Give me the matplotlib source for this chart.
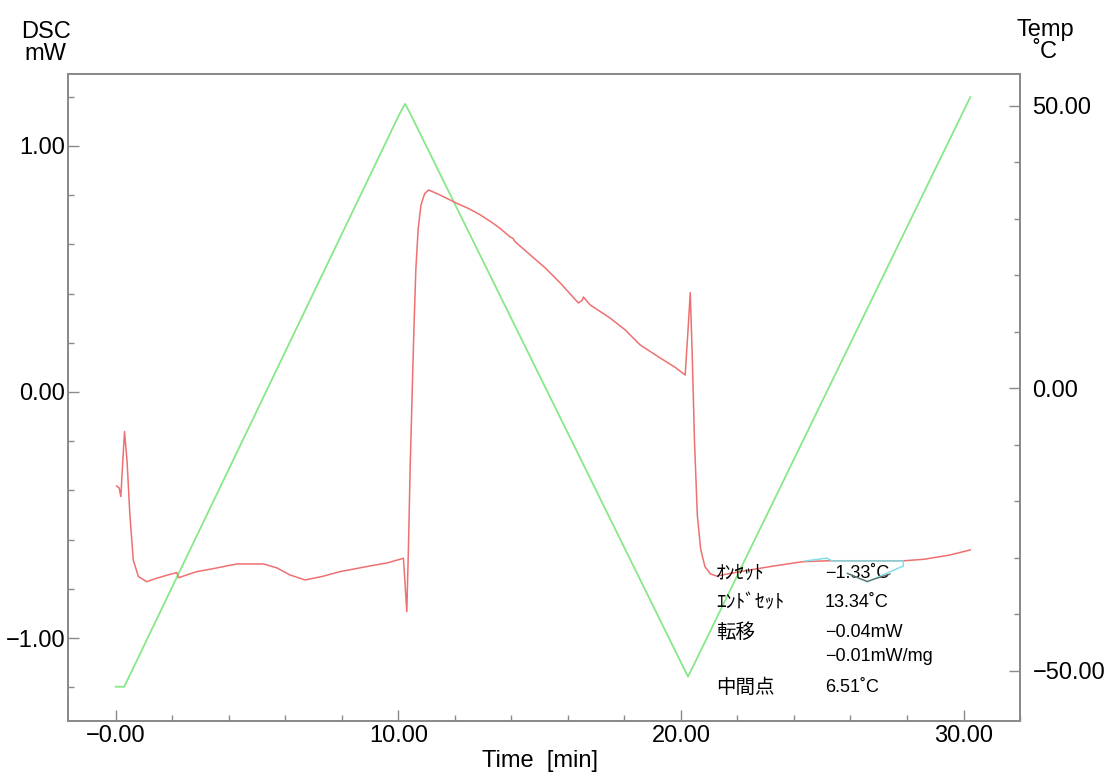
import matplotlib
matplotlib.use("Agg")
import matplotlib.pyplot as plt

plt.rcParams['font.family'] = ['Liberation Sans', 'Noto Sans CJK JP', 'DejaVu Sans']

# DSC signal (mW) vs time (min)
dsc_time = [0.03, 0.12, 0.18, 0.24, 0.31, 0.40, 0.50, 0.62, 0.80, 1.10, 1.45, 1.80, 2.16, 2.22,
            2.87, 3.50, 4.28, 5.23, 5.70, 6.17, 6.70, 7.30, 7.94, 8.50, 9.00, 9.60, 10.18,
            10.30, 10.36, 10.42, 10.49, 10.55, 10.62, 10.70, 10.80, 10.93, 11.07, 11.40, 12.07,
            12.50, 12.90, 13.30, 13.60, 13.96, 14.05, 14.14, 14.67, 15.20, 15.73, 16.37, 16.50,
            16.55, 16.79, 17.50, 18.03, 18.56, 19.27, 19.80, 20.15, 20.25, 20.33, 20.40, 20.48,
            20.58, 20.70, 20.85, 21.05, 21.26, 22.10, 23.30, 24.30, 25.20, 26.20, 27.90, 28.60,
            29.50, 30.24]
dsc_mw = [-0.382, -0.39, -0.425, -0.30, -0.161, -0.28, -0.50, -0.683, -0.750, -0.771, -0.757,
          -0.745, -0.734, -0.755, -0.730, -0.717, -0.699, -0.699, -0.715, -0.744, -0.764,
          -0.750, -0.730, -0.718, -0.707, -0.695, -0.676, -0.893, -0.62, -0.30, 0.00, 0.25,
          0.50, 0.66, 0.76, 0.806, 0.821, 0.805, 0.767, 0.745, 0.720, 0.690, 0.665, 0.630,
          0.625, 0.610, 0.557, 0.504, 0.443, 0.362, 0.372, 0.386, 0.354, 0.300, 0.252, 0.191,
          0.138, 0.100, 0.069, 0.250, 0.404, 0.150, -0.20, -0.50, -0.64, -0.71, -0.740, -0.748,
          -0.730, -0.707, -0.690, -0.686, -0.686, -0.686, -0.680, -0.663, -0.642]

# Programmed temperature (°C) vs time (min)
temp_time = [0.00, 0.30, 10.05, 10.24, 10.42, 20.10, 20.25, 20.40, 30.24]
temp_c = [-52.8, -52.8, 48.6, 50.3, 48.6, -49.5, -51.0, -49.5, 51.5]

# Baseline construction of the step analysis
base_time = [24.40, 25.17, 25.35, 27.87, 27.87, 26.59, 25.88]
base_mw = [-0.687, -0.675, -0.687, -0.687, -0.707, -0.772, -0.736]
tang_time = [25.90, 26.59, 27.40]
tang_mw = [-0.738, -0.770, -0.740]

x_ticks = [0, 10, 20, 30]
x_labels = ['\u22120.00', '10.00', '20.00', '30.00']
y_ticks = [-1, 0, 1]
y_labels = ['\u22121.00', '0.00', '1.00']
t_ticks = [-50, 0, 50]
t_labels = ['\u221250.00', '0.00', '50.00']

result_names = ['\uff75\uff9d\uff7e\uff6f\uff84', '\uff74\uff9d\uff84\uff9e\uff7e\uff6f\uff84', '\u8ee2\u79fb', '', '\u4e2d\u9593\u70b9']
result_values = ['\u22121.33\u02daC', '13.34\u02daC', '\u22120.04mW', '\u22120.01mW/mg', '6.51\u02daC']

fig = plt.figure(figsize=(11.12, 7.78), dpi=100)
ax = fig.add_axes([0.0614, 0.0737, 0.8559, 0.8313])
ax2 = ax.twinx()

spine_col = '#8a8a8a'
for a in (ax, ax2):
    for s in a.spines.values():
        s.set_color(spine_col)
        s.set_linewidth(1.3)

ax2.plot(temp_time, temp_c, color='#86e886', lw=1.3, zorder=2)
ax.plot(dsc_time, dsc_mw, color='#ee7070', lw=1.1, zorder=3)
ax.plot(base_time, base_mw, color='#7fe0e8', lw=1.1, zorder=4)
ax.plot(tang_time, tang_mw, color='#666666', lw=0.9, zorder=4)
ax.set_zorder(ax2.get_zorder() + 1)
ax.patch.set_visible(False)

ax.set_xlim(-1.68, 32.0)
ax.set_ylim(-1.336, 1.293)
ax2.set_ylim(-58.8, 55.6)

ax.set_xticks(x_ticks)
ax.set_xticklabels(x_labels)
ax.set_xticks([t for t in range(0, 33, 2) if t not in x_ticks], minor=True)
ax.set_yticks(y_ticks)
ax.set_yticklabels(y_labels)
ax.set_yticks([v / 10 for v in range(-12, 13, 2) if v % 10 != 0], minor=True)
ax2.set_yticks(t_ticks)
ax2.set_yticklabels(t_labels)
ax2.set_yticks([v for v in range(-50, 51, 10) if v % 50 != 0], minor=True)

for a in (ax, ax2):
    a.tick_params(which='major', direction='in', length=8, width=1.0, color=spine_col, labelsize=17)
    a.tick_params(which='minor', direction='in', length=4, width=1.0, color=spine_col)
ax.tick_params(axis='x', pad=3)
ax.tick_params(axis='y', pad=2)
ax2.tick_params(axis='y', pad=9)

fig.text(0.041, 0.945, 'DSC\nmW', ha='center', va='center', fontsize=17, linespacing=1.0)
fig.text(0.940, 0.947, 'Temp\n\u02daC', ha='center', va='center', fontsize=17, linespacing=1.0)
fig.text(0.486, 0.022, 'Time  [min]', ha='center', va='center', fontsize=17)

row_y = [-0.737, -0.857, -0.977, -1.077, -1.202]
for name, val, yy in zip(result_names, result_values, row_y):
    if name:
        ax.text(21.25, yy, name, fontsize=14, va='center', ha='left',
                family=['Noto Sans CJK JP', 'DejaVu Sans'])
    ax.text(25.10, yy, val, fontsize=13, va='center', ha='left')

fig.savefig('out.png', dpi=100)
